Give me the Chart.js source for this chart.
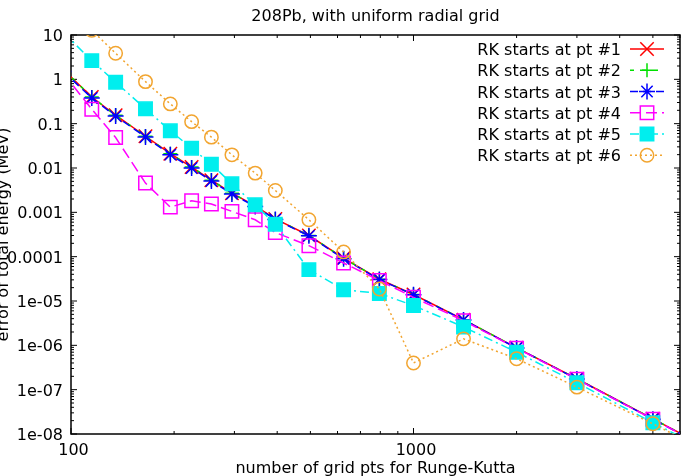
<!DOCTYPE html>
<html>
<head>
<meta charset="utf-8">
<script src="https://cdn.jsdelivr.net/npm/chart.js@4.4.0/dist/chart.umd.min.js"></script>
<style>
  html, body { margin: 0; padding: 0; background: #fff; }
  #wrap { width: 684px; height: 476px; }
</style>
</head>
<body>
<div id="wrap"><canvas id="c" width="684" height="476"></canvas></div>
<script>
// 208Pb error vs. grid size, log-log, one curve per RK starting point.
const TITLE = '208Pb, with uniform radial grid';
const X_TITLE = 'number of grid pts for Runge-Kutta';
const Y_TITLE = 'error of total energy (MeV)';

const gridPts = [95, 115, 135, 165, 195, 225, 257, 295, 345, 395, 495, 625, 795, 1000, 1400, 2000, 3000, 5000, 7000];

const rkPt1 = [1.65, 0.40, 0.155, 0.052, 0.021, 0.0105, 0.0053, 0.0027, 0.0014, 7.1e-4, 3.0e-4, 9.3e-5, 3.1e-5, 1.4e-5, 3.8e-6, 8.8e-7, 1.76e-7, 2.2e-8, 5.6e-9];
const rkPt2 = [1.65, 0.40, 0.155, 0.052, 0.021, 0.0105, 0.0053, 0.0027, 0.0014, 7.1e-4, 3.0e-4, 9.3e-5, 3.1e-5, 1.4e-5, 3.8e-6, 8.8e-7, 1.76e-7, 2.2e-8, 5.6e-9];
const rkPt3 = [1.5, 0.38, 0.148, 0.050, 0.020, 0.0100, 0.0051, 0.0026, 0.00135, 6.9e-4, 2.95e-4, 9.0e-5, 3.05e-5, 1.38e-5, 3.75e-6, 8.7e-7, 1.74e-7, 2.15e-8, 5.5e-9];
const rkPt4 = [1.35, 0.212, 0.0486, 0.00457, 0.00131, 0.00182, 0.00154, 0.00105, 6.8e-4, 3.5e-4, 1.77e-4, 7.2e-5, 2.9e-5, 1.21e-5, 3.6e-6, 8.6e-7, 1.72e-7, 2.15e-8, 5.5e-9];
const rkPt5 = [11.4, 2.64, 0.86, 0.216, 0.069, 0.028, 0.0122, 0.0044, 0.00148, 5.4e-4, 5.1e-5, 1.8e-5, 1.48e-5, 7.9e-6, 2.6e-6, 7.0e-7, 1.43e-7, 1.8e-8, 4.8e-9];
const rkPt6 = [60, 12.8, 3.87, 0.887, 0.279, 0.111, 0.0497, 0.0198, 0.00767, 0.00311, 6.8e-4, 1.28e-4, 1.87e-5, 4.0e-7, 1.4e-6, 5.0e-7, 1.14e-7, 1.7e-8, 4.5e-9];

const seriesLabels = ['RK starts at pt #1', 'RK starts at pt #2', 'RK starts at pt #3',
  'RK starts at pt #4', 'RK starts at pt #5', 'RK starts at pt #6'];

const xTickValues = [100, 1000];
const xTickLabels = ['100', '1000'];
const yTickValues = [10, 1, 0.1, 0.01, 0.001, 0.0001, 1e-5, 1e-6, 1e-7, 1e-8];
const yTickLabels = ['10', '1', '0.1', '0.01', '0.001', '0.0001', '1e-05', '1e-06', '1e-07', '1e-08'];

const FONT = '16px "DejaVu Sans", "Liberation Sans", sans-serif';

// look of each curve (gnuplot style line types)
const styles = [
  { color: '#ff0000', dash: [],           point: 'crossRot', r: 9.5, fill: 'rgba(0,0,0,0)' },
  { color: '#00e000', dash: [4, 8],       point: 'cross',    r: 7,   fill: 'rgba(0,0,0,0)' },
  { color: '#0000ff', dash: [8, 5],       point: 'star',     r: 8,   fill: 'rgba(0,0,0,0)' },
  { color: '#ff00ff', dash: [11, 5],      point: 'rect',     r: 9.5, fill: 'rgba(0,0,0,0)' },
  { color: '#00eeee', dash: [9, 4, 2, 4], point: 'rect',     r: 9.5, fill: '#00eeee' },
  { color: '#f2a530', dash: [2, 3],       point: 'circle',   r: 6.7, fill: 'rgba(0,0,0,0)' },
];

const allSeries = [rkPt1, rkPt2, rkPt3, rkPt4, rkPt5, rkPt6];

const datasets = allSeries.map((vals, i) => {
  const s = styles[i];
  return {
    label: seriesLabels[i],
    data: gridPts.map((x, j) => ({ x: x, y: vals[j] })),
    borderColor: s.color, borderWidth: 1.5, borderDash: s.dash,
    pointStyle: s.point, pointRadius: s.r, pointBorderWidth: 1.5,
    pointBorderColor: s.color, pointBackgroundColor: s.fill,
    backgroundColor: s.fill, fill: false, tension: 0,
    order: 6 - i, // later curves on top, like gnuplot
  };
});

function decadeMinors(lo, hi) {
  const out = [];
  for (let d = lo; d < hi * 0.999; d *= 10) {
    for (let k = 2; k <= 9; k++) { const v = k * d; if (v <= hi * 1.0001) out.push(v); }
  }
  return out;
}

const framePlugin = {
  id: 'frame',
  beforeDatasetsDraw(chart) {
    const { ctx, chartArea: a, scales: { x, y } } = chart;
    ctx.save();
    ctx.strokeStyle = '#000';
    ctx.lineWidth = 1;
    const tick = (px, len, horiz) => {
      ctx.beginPath();
      if (horiz) { ctx.moveTo(px, a.bottom); ctx.lineTo(px, a.bottom - len); ctx.moveTo(px, a.top); ctx.lineTo(px, a.top + len); }
      else { ctx.moveTo(a.left, px); ctx.lineTo(a.left + len, px); ctx.moveTo(a.right, px); ctx.lineTo(a.right - len, px); }
      ctx.stroke();
    };
    xTickValues.forEach((v) => tick(x.getPixelForValue(v), 6, true));
    decadeMinors(100, 6000).forEach((v) => tick(x.getPixelForValue(v), 3, true));
    yTickValues.forEach((v) => tick(y.getPixelForValue(v), 6, false));
    decadeMinors(1e-8, 10).forEach((v) => tick(y.getPixelForValue(v), 3, false));
    ctx.lineWidth = 1.5;
    ctx.strokeRect(a.left, a.top, a.right - a.left, a.bottom - a.top);
    ctx.restore();
  },
  afterDraw(chart) {
    const { ctx, chartArea: a, scales: { x, y } } = chart;
    ctx.save();
    ctx.fillStyle = '#000';
    ctx.font = FONT;
    ctx.textBaseline = 'alphabetic';

    ctx.textAlign = 'right';
    yTickValues.forEach((v, i) => ctx.fillText(yTickLabels[i], a.left - 8, y.getPixelForValue(v) + 6));
    ctx.textAlign = 'center';
    xTickValues.forEach((v, i) => ctx.fillText(xTickLabels[i], x.getPixelForValue(v) + 2.5, a.bottom + 21));

    const midX = (a.left + a.right) / 2;
    ctx.fillText(TITLE, midX, 21);
    ctx.fillText(X_TITLE, midX, 473);

    ctx.save();
    ctx.translate(7.5, (a.top + a.bottom) / 2);
    ctx.rotate(-Math.PI / 2);
    ctx.fillText(Y_TITLE, 0, 0);
    ctx.restore();

    // key, top right: text then line sample with marker
    const helpers = Chart.helpers;
    seriesLabels.forEach((lab, i) => {
      const s = styles[i];
      const base = 55 + i * 21.25;
      const cy = base - 6;
      ctx.fillStyle = '#000';
      ctx.textAlign = 'right';
      ctx.fillText(lab, 621, base);
      ctx.strokeStyle = s.color;
      ctx.lineWidth = 1.5;
      ctx.setLineDash(s.dash);
      ctx.beginPath(); ctx.moveTo(630, cy); ctx.lineTo(664, cy); ctx.stroke();
      ctx.setLineDash([]);
      if (helpers && helpers.drawPoint) {
        ctx.fillStyle = s.fill;
        helpers.drawPoint(ctx, { pointStyle: s.point, radius: s.r, rotation: 0, borderWidth: 1.5 }, 647, cy);
      }
    });
    ctx.restore();
  },
};

new Chart(document.getElementById('c').getContext('2d'), {
  type: 'line',
  data: { datasets: datasets },
  options: {
    responsive: false, animation: false, devicePixelRatio: 1,
    layout: { autoPadding: false, padding: { left: 71, right: 4, top: 35, bottom: 42 } },
    plugins: { legend: { display: false }, tooltip: { enabled: false }, title: { display: false } },
    scales: {
      x: { type: 'logarithmic', min: 100, max: 6000, display: false },
      y: { type: 'logarithmic', min: 1e-8, max: 10, display: false },
    },
  },
  plugins: [framePlugin],
});
</script>
</body>
</html>
